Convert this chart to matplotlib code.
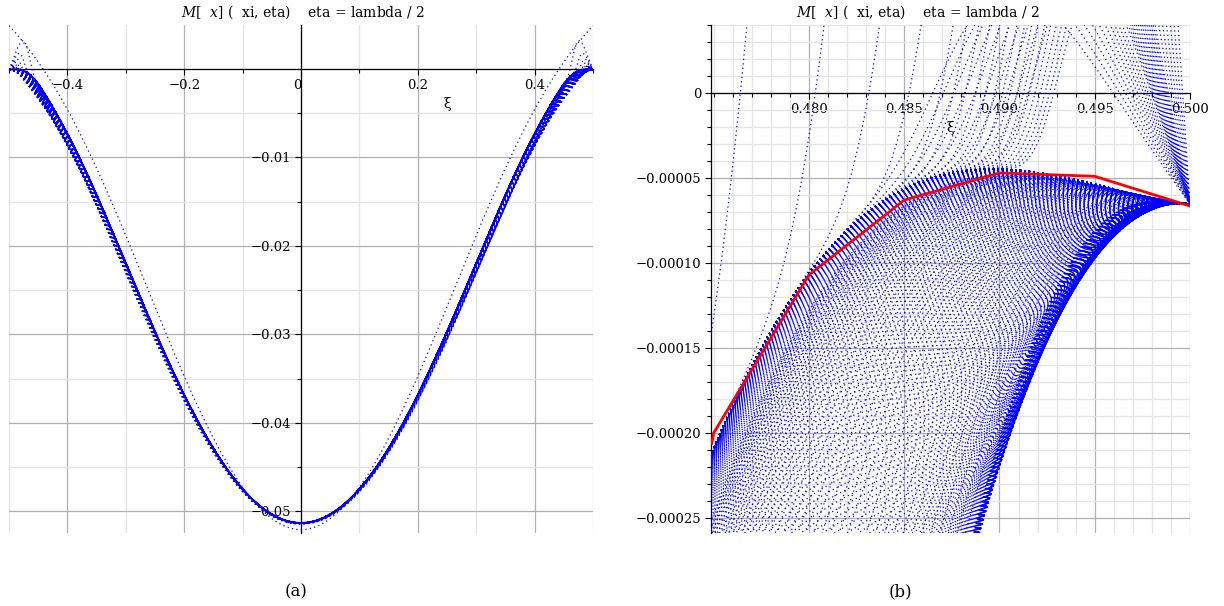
"""Partial sums of M_x(xi, eta) at eta = lambda/2: full span (a) and edge zoom (b)."""
import numpy as np
import matplotlib
matplotlib.use("Agg")
import matplotlib.pyplot as plt
from matplotlib.ticker import FixedLocator, MultipleLocator

# ---- values ----------------------------------------------------------
# red curve of panel (b), sampled every 0.005 in xi
RED_XI = [0.4749, 0.475, 0.480, 0.485, 0.490, 0.495, 0.500]
RED_M = [-0.000206, -0.000200, -0.000107, -0.000063, -0.000047, -0.000049, -0.0000665]

# outer dotted curve of panel (a) (first partial sum), read at |xi|
S1_XI = [0.0, 0.156, 0.318, 0.40, 0.497]
S1_M = [-0.0524, -0.0408, -0.0148, -0.0059, 0.0050]

M_CENTRE = -0.0513          # moment at xi = 0
SHAPE_EXP = 1.9             # fullness of the moment curve
C_TAIL = 4.75               # size of the truncation dips near the edge
ELL_NEAR = (0.0002, 0.016)  # widths of the edge dips
ELL_FAR = (0.016, 0.06)     # wider, shallow dips seen in panel (a)
N_NEAR, N_FAR = 420, 40
J_BUMPS = np.concatenate([np.arange(2, 8), np.arange(8, 40, 0.5)])  # overshooting sums
# slower overshoots: where they cross zero, and their slope at the edge
GENTLE_D0 = np.linspace(0.0135, 0.0085, 10)
GENTLE_SIG = np.linspace(0.014, 0.028, 10)
TOP_CLEAR = 0.00006         # overshoots that stay lower are not drawn

# axes
XL_TICKS = [-0.4, -0.2, 0.0, 0.2, 0.4]
XL_LABELS = ["\u22120.4", "\u22120.2", "0", "0.2", "0.4"]
YL_TICKS = [-0.05, -0.04, -0.03, -0.02, -0.01]
YL_LABELS = ["\u22120.05", "\u22120.04", "\u22120.03", "\u22120.02", "\u22120.01"]
XR_TICKS = [0.480, 0.485, 0.490, 0.495, 0.500]
XR_LABELS = ["0.480", "0.485", "0.490", "0.495", "0.500"]
YR_TICKS = [0.0, -0.00005, -0.00010, -0.00015, -0.00020, -0.00025]
YR_LABELS = ["0", "\u22120.00005", "\u22120.00010", "\u22120.00015",
             "\u22120.00020", "\u22120.00025"]
XLIM_L, YLIM_L = (-0.5, 0.5), (-0.05243, 0.00497)
XLIM_R, YLIM_R = (0.47486, 0.5), (-0.0002588, 0.00004)

BLUE = "#0000ff"
RED = "#ff0000"
DOTS = (0, (1, 2.6))

plt.rcParams["font.family"] = ["DejaVu Serif"]
plt.rcParams["mathtext.fontset"] = "dejavuserif"


def shape(xi):
    d = 0.5 - np.abs(xi)
    base = np.clip(1 - 4 * xi ** 2, 0, None) ** SHAPE_EXP
    return M_CENTRE * base * (1 - np.exp(-(d / 0.04) ** 2))


def edge_basis(xi):
    u = (0.5 - np.abs(xi)) / 0.008
    e = np.exp(-u)
    return np.stack([e, u * e, u * u * e], axis=-1)


# edge correction so the limit curve passes through the red samples
_rx = np.array(RED_XI[1:])
_coef, *_ = np.linalg.lstsq(edge_basis(_rx), np.array(RED_M[1:]) - shape(_rx),
                            rcond=None)


def limit(xi):
    return shape(xi) + edge_basis(xi) @ _coef


# first partial sum: fit of read points on 1, cos(2 pi xi), edge exponential
def s1_basis(xi):
    d = 0.5 - np.abs(xi)
    return np.stack([np.ones_like(d), np.cos(2 * np.pi * xi), np.exp(-d / 0.12)], axis=-1)


_s1, *_ = np.linalg.lstsq(s1_basis(np.array(S1_XI)), np.array(S1_M), rcond=None)


def bump_params():
    """Slope and cut-off width of each overshooting partial sum."""
    dd = np.linspace(0.0, 0.04, 800)
    r_dd = limit(0.5 - dd)
    pairs = [(0.118 / (j + 1), 0.5 / (j + 1)) for j in J_BUMPS]
    pairs += list(zip(GENTLE_D0, GENTLE_SIG))
    keep = []
    for d0, sig in pairs:
        r0 = -float(limit(np.array(0.5 - d0)))
        ratio = sig * d0 / r0
        if ratio <= 1.2:
            continue
        big_l = d0 / np.log(ratio) ** 0.2
        peak = np.max(r_dd + sig * dd * np.exp(-(dd / big_l) ** 5))
        if peak > TOP_CLEAR:
            keep.append((sig, big_l))
    return keep


BUMPS = bump_params()


def partial_sums(xi):
    d = 0.5 - np.abs(xi)
    r = limit(xi)
    out = []
    for ell in np.geomspace(*ELL_NEAR, N_NEAR):
        out.append(r - C_TAIL * d ** 3 * np.exp(-d / ell) / ell)
    a0 = C_TAIL * ELL_FAR[0] ** 2
    for ell in np.geomspace(*ELL_FAR, N_FAR)[1:]:
        u = d / ell
        out.append(r - a0 * (ELL_FAR[0] / ell) ** 0.3 * u ** 3 * np.exp(-u))
    for sig, big_l in BUMPS:
        out.append(r + sig * d * np.exp(-(d / big_l) ** 5))
    out.append(s1_basis(xi) @ _s1)
    return out


def style(ax, xt, xl, yt, yl, xminor, yminor, ypos):
    ax.spines["top"].set_visible(False)
    ax.spines["right"].set_visible(False)
    ax.spines["bottom"].set_position(("data", 0))
    ax.spines["left"].set_position(("data", ypos))
    for s in ("bottom", "left"):
        ax.spines[s].set_linewidth(0.9)
    ax.xaxis.set_major_locator(FixedLocator(xt))
    ax.set_xticklabels(xl)
    ax.yaxis.set_major_locator(FixedLocator(yt))
    ax.set_yticklabels(yl)
    ax.xaxis.set_minor_locator(MultipleLocator(xminor))
    ax.yaxis.set_minor_locator(MultipleLocator(yminor))
    ax.tick_params(which="both", direction="out", width=0.8, labelsize=9.5, pad=3)
    ax.tick_params(which="major", length=4)
    ax.tick_params(which="minor", length=3)
    ax.grid(which="major", color="#b0b0b0", lw=0.9)
    ax.grid(which="minor", color="#e4e4e4", lw=0.9)
    ax.set_axisbelow(True)
    ax.patch.set_visible(False)


fig = plt.figure(figsize=(12.24, 6.06), dpi=100)
ax_a = fig.add_axes([9 / 1224, 73 / 606, 584 / 1224, 508 / 606])
ax_b = fig.add_axes([711 / 1224, 73 / 606, 479 / 1224, 508 / 606])

# ---- panel (a) --------------------------------------------------------
xa = np.linspace(-0.5, 0.5, 2401)
xs = np.linspace(-0.5, 0.5, 201)
ax_a.plot(xs, limit(xs), color=RED, lw=1.6, zorder=2)
for y in partial_sums(xa):
    ax_a.plot(xa, y, color=BLUE, lw=0.9, ls=DOTS, zorder=3)
ax_a.set_xlim(*XLIM_L)
ax_a.set_ylim(*YLIM_L)
style(ax_a, XL_TICKS, XL_LABELS, YL_TICKS, YL_LABELS, 0.1, 0.005, 0.0)
for lab in ax_a.get_xticklabels():
    if lab.get_text() == "0":
        lab.set_horizontalalignment("right")
ax_a.text(0.75, 0.845, "\u03be", transform=ax_a.transAxes, fontsize=10,
          ha="center", va="center")

# ---- panel (b) --------------------------------------------------------
xb = np.linspace(0.4740, 0.5, 1600)
for y in partial_sums(xb):
    ax_b.plot(xb, y, color=BLUE, lw=0.9, ls=DOTS, zorder=3)
ax_b.plot(RED_XI, RED_M, color=RED, lw=2.0, zorder=4)
ax_b.set_xlim(*XLIM_R)
ax_b.set_ylim(*YLIM_R)
style(ax_b, XR_TICKS, XR_LABELS, YR_TICKS, YR_LABELS, 0.001, 0.00001, XLIM_R[0])
ax_b.text(0.499, 0.797, "\u03be", transform=ax_b.transAxes, fontsize=10,
          ha="center", va="center")

title = r"$M$[  $x$] (  xi, eta)    eta = lambda / 2"
fig.text(303 / 1224, 1 - 12 / 606, title, ha="center", va="center", fontsize=10)
fig.text(918 / 1224, 1 - 12 / 606, title, ha="center", va="center", fontsize=10)
fig.text(296 / 1224, 1 - 592 / 606, "(a)", ha="center", va="center", fontsize=12)
fig.text(900 / 1224, 1 - 592 / 606, "(b)", ha="center", va="center", fontsize=12)

fig.savefig("out.png", dpi=100)
